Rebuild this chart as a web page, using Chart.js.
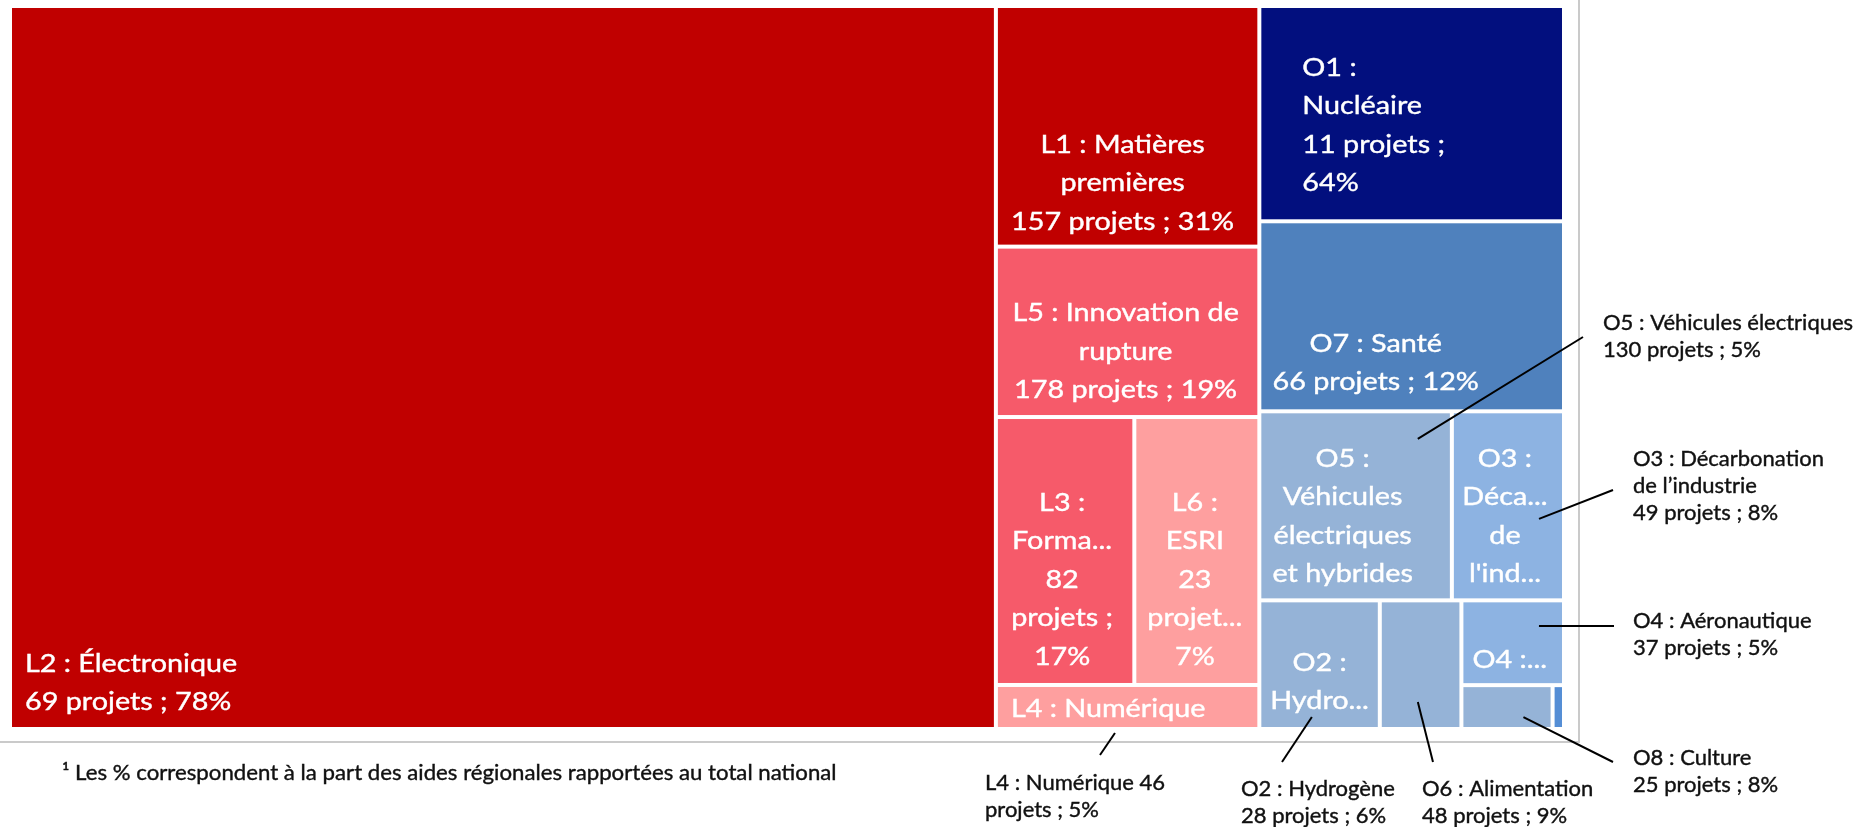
<!DOCTYPE html>
<html lang="fr">
  <head>
    <meta charset="UTF-8" />
    <title>Aides régionales par levier et objectif</title>
    <script src="https://cdn.jsdelivr.net/npm/chart.js"></script>
    <style>
      body { margin: 0; background: #fff; }
    </style>
  </head>
  <body>
    <canvas id="treemap" width="1856" height="827"></canvas>

    <script>
      // Groups (leviers L / objectifs O) and their cells, biggest first
      const groups = ['L', 'O'];
      const codes = ['L2', 'L1', 'L5', 'L3', 'L6', 'L4', 'O1', 'O7', 'O5', 'O3', 'O2', 'O6', 'O4', 'O8', 'O9'];
      const parents = ['L', 'L', 'L', 'L', 'L', 'L', 'O', 'O', 'O', 'O', 'O', 'O', 'O', 'O', 'O'];
      // Aid amounts (relative)
      const aides = [712.9, 63.4, 44.9, 37.1, 33.5, 11.6, 65.6, 57.9, 36.4, 21.2, 15.5, 10.5, 8.7, 4.0, 0.5];

      // Text shown inside the cells
      const cellText = {
        L2: ['L2 : Électronique', '69 projets ; 78%'],
        L1: ['L1 : Matières', 'premières', '157 projets ; 31%'],
        L5: ['L5 : Innovation de', 'rupture', '178 projets ; 19%'],
        L3: ['L3 :', 'Forma...', '82', 'projets ;', '17%'],
        L6: ['L6 :', 'ESRI', '23', 'projet...', '7%'],
        L4: ['L4 : Numérique'],
        O1: ['O1 :', 'Nucléaire', '11 projets ;', '64%'],
        O7: ['O7 : Santé', '66 projets ; 12%'],
        O5: ['O5 :', 'Véhicules', 'électriques', 'et hybrides'],
        O3: ['O3 :', 'Déca...', 'de', "l'ind..."],
        O2: ['O2 :', 'Hydro...'],
        O4: ['O4 :...'],
      };

      // Call-out texts for the small cells
      const callouts = [
        { code: 'O5', lines: ['O5 : Véhicules électriques', '130 projets ; 5%'] },
        { code: 'O3', lines: ['O3 : Décarbonation', 'de l’industrie', '49 projets ; 8%'] },
        { code: 'O4', lines: ['O4 : Aéronautique', '37 projets ; 5%'] },
        { code: 'O8', lines: ['O8 : Culture', '25 projets ; 8%'] },
        { code: 'L4', lines: ['L4 : Numérique 46', 'projets ; 5%'] },
        { code: 'O2', lines: ['O2 : Hydrogène', '28 projets ; 6%'] },
        { code: 'O6', lines: ['O6 : Alimentation', '48 projets ; 9%'] },
      ];
      const footnote = '¹ Les % correspondent à la part des aides régionales rapportées au total national';

      // ---- styles ----
      const colors = {
        L2: '#C00000', L1: '#C00000', L5: '#F65A6A', L3: '#F65A6A', L6: '#FE9F9F', L4: '#FE9F9F',
        O1: '#020F7E', O7: '#4F81BD', O5: '#95B3D7', O3: '#8DB3E2', O2: '#95B3D7',
        O6: '#95B3D7', O4: '#8DB3E2', O8: '#95B3D7', O9: '#558ED5',
      };
      const labelPlace = {
        L2: { align: 'left', dx: 13, gap: 17 },
        L1: { dx: -5, gap: 15 },
        L5: { dx: -2, gap: 17 },
        L3: { dx: -3, gap: 18 },
        L6: { dx: -2, gap: 18 },
        L4: { align: 'left', dx: 13, gap: 10 },
        O1: { align: 'left', dx: 41, gap: 28 },
        O7: { dx: -36, gap: 19 },
        O5: { dx: -13, gap: 16 },
        O3: { dx: -3, gap: 16 },
        O4: { dx: -3, gap: 15 },
        O2: { dx: 0, gap: 18 },
      };
      // leader line: point inside the cell (fraction) -> text side (px), text origin (px)
      const calloutPlace = {
        O5: { fx: 0.823, fy: 0.146, end: [1583, 337], text: [1603, 330] },
        O3: { fx: 0.777, fy: 0.569, end: [1613, 490], text: [1633, 466] },
        O4: { fx: 0.756, fy: 0.302, end: [1614, 626], text: [1633, 628] },
        O8: { fx: 0.68, fy: 0.727, end: [1613, 762], text: [1633, 765] },
        L4: { fx: 0.452, fy: 1.09, end: [1100, 755], text: [985, 790] },
        O2: { fx: 0.436, fy: 0.907, end: [1282, 762], text: [1241, 796] },
        O6: { fx: 0.466, fy: 0.79, end: [1433, 762], text: [1422, 796] },
      };
      const GAP = 2;
      const CELL_FONT = '25px Lato';
      const CELL_STRETCH = 1.15;
      const CELL_WEIGHT = 0.4; // extra stroke to thicken the glyphs
      const CELL_LINE = 38.5;
      const NOTE_FONT = '22px Lato';
      const NOTE_WEIGHT = 0.4;
      const NOTE_LINE = 27;
      const SLACK = 1.2;

      // ---- squarified treemap layout ----
      function worst(row, side) {
        const s = row.reduce((a, d) => a + d.area, 0);
        const t = s / side;
        return Math.max(...row.map((d) => {
          const l = d.area / t;
          return Math.max(l / t, t / l);
        }));
      }

      function squarify(items, x, y, w, h, out) {
        const total = items.reduce((s, d) => s + d.value, 0);
        const k = (w * h) / total;
        let rest = items
          .slice()
          .sort((a, b) => b.value - a.value)
          .map((d) => ({ ...d, area: d.value * k }));
        while (rest.length) {
          const side = Math.min(w, h);
          let n = 1;
          let best = worst(rest.slice(0, 1), side);
          while (n < rest.length) {
            const next = worst(rest.slice(0, n + 1), side);
            if (next > best * SLACK) break;
            best = next;
            n++;
          }
          const row = rest.slice(0, n);
          const thick = row.reduce((s, d) => s + d.area, 0) / side;
          let pos = 0;
          row.forEach((d) => {
            const len = d.area / thick;
            if (w <= h) out.push({ ...d, x0: x + pos, y0: y, x1: x + pos + len, y1: y + thick });
            else out.push({ ...d, x0: x, y0: y + pos, x1: x + thick, y1: y + pos + len });
            pos += len;
          });
          if (w <= h) { y += thick; h -= thick; } else { x += thick; w -= thick; }
          rest = rest.slice(n);
        }
        return out;
      }

      function buildCells(W, H) {
        const top = groups.map((g) => ({
          key: g,
          value: aides.filter((v, i) => parents[i] === g).reduce((s, v) => s + v, 0),
        }));
        const cells = [];
        squarify(top, 0, 0, W, H, []).forEach((g) => {
          const kids = codes
            .map((c, i) => ({ key: c, value: aides[i] }))
            .filter((d, i) => parents[i] === g.key);
          squarify(kids, g.x0, g.y0, g.x1 - g.x0, g.y1 - g.y0, cells);
        });
        // to scale units (0..1 on both axes)
        return cells.map((c) => ({ key: c.key, x0: c.x0 / W, x1: c.x1 / W, y0: c.y0 / H, y1: c.y1 / H }));
      }

      function drawLines(ctx, lines, x, lastBaseline, lineH, align, stretch, weight) {
        lines.forEach((line, i) => {
          const y = lastBaseline - (lines.length - 1 - i) * lineH;
          ctx.save();
          ctx.translate(x, y);
          ctx.scale(stretch, 1);
          ctx.textAlign = align;
          ctx.fillText(line, 0, 0);
          if (weight) {
            ctx.lineWidth = weight;
            ctx.strokeStyle = ctx.fillStyle;
            ctx.strokeText(line, 0, 0);
          }
          ctx.restore();
        });
      }

      const treemapPlugin = {
        id: 'treemap',
        beforeDatasetsDraw(chart) {
          const { ctx, chartArea, scales } = chart;
          const cells = buildCells(chartArea.width, chartArea.height);
          chart.$cells = {};
          cells.forEach((c) => {
            const left = scales.x.getPixelForValue(c.x0);
            const right = scales.x.getPixelForValue(c.x1);
            const top = scales.y.getPixelForValue(c.y0);
            const bottom = scales.y.getPixelForValue(c.y1);
            chart.$cells[c.key] = { left, right, top, bottom };
            ctx.fillStyle = colors[c.key];
            ctx.fillRect(left + GAP, top + GAP, right - left - 2 * GAP, bottom - top - 2 * GAP);
          });
          // labels inside cells
          ctx.save();
          ctx.fillStyle = '#FFFFFF';
          ctx.font = CELL_FONT;
          ctx.textBaseline = 'alphabetic';
          Object.keys(cellText).forEach((key) => {
            const r = chart.$cells[key];
            const p = labelPlace[key];
            const align = p.align || 'center';
            const x = align === 'left' ? r.left + GAP + p.dx : (r.left + r.right) / 2 + p.dx;
            drawLines(ctx, cellText[key], x, r.bottom - GAP - p.gap, CELL_LINE, align, CELL_STRETCH, CELL_WEIGHT);
          });
          ctx.restore();
        },
        afterDraw(chart) {
          const { ctx } = chart;
          // frame of the pasted chart
          ctx.save();
          ctx.strokeStyle = '#CACACA';
          ctx.lineWidth = 2;
          ctx.beginPath();
          ctx.moveTo(1579, 0);
          ctx.lineTo(1579, 742);
          ctx.lineTo(0, 742);
          ctx.stroke();
          ctx.restore();

          // call-outs
          ctx.save();
          ctx.fillStyle = '#111111';
          ctx.font = NOTE_FONT;
          callouts.forEach((c) => {
            const r = chart.$cells[c.code];
            const p = calloutPlace[c.code];
            ctx.strokeStyle = '#000000';
            ctx.lineWidth = 2;
            ctx.beginPath();
            ctx.moveTo(r.left + (r.right - r.left) * p.fx, r.top + (r.bottom - r.top) * p.fy);
            ctx.lineTo(p.end[0], p.end[1]);
            ctx.stroke();
            const lastBaseline = p.text[1] + (c.lines.length - 1) * NOTE_LINE;
            drawLines(ctx, c.lines, p.text[0], lastBaseline, NOTE_LINE, 'left', 1, NOTE_WEIGHT);
          });
          drawLines(ctx, [footnote], 62, 780, NOTE_LINE, 'left', 1.01, NOTE_WEIGHT);
          ctx.restore();
        },
      };

      new Chart(document.getElementById('treemap'), {
        type: 'scatter',
        data: { datasets: [{ data: [], pointRadius: 0 }] },
        options: {
          responsive: false,
          animation: false,
          devicePixelRatio: 1,
          layout: { padding: { left: 10, top: 6, right: 292, bottom: 98 } },
          scales: {
            x: { type: 'linear', min: 0, max: 1, display: false },
            y: { type: 'linear', min: 0, max: 1, reverse: true, display: false },
          },
          plugins: { legend: { display: false }, tooltip: { enabled: false } },
        },
        plugins: [treemapPlugin],
      });
    </script>
  </body>
</html>
